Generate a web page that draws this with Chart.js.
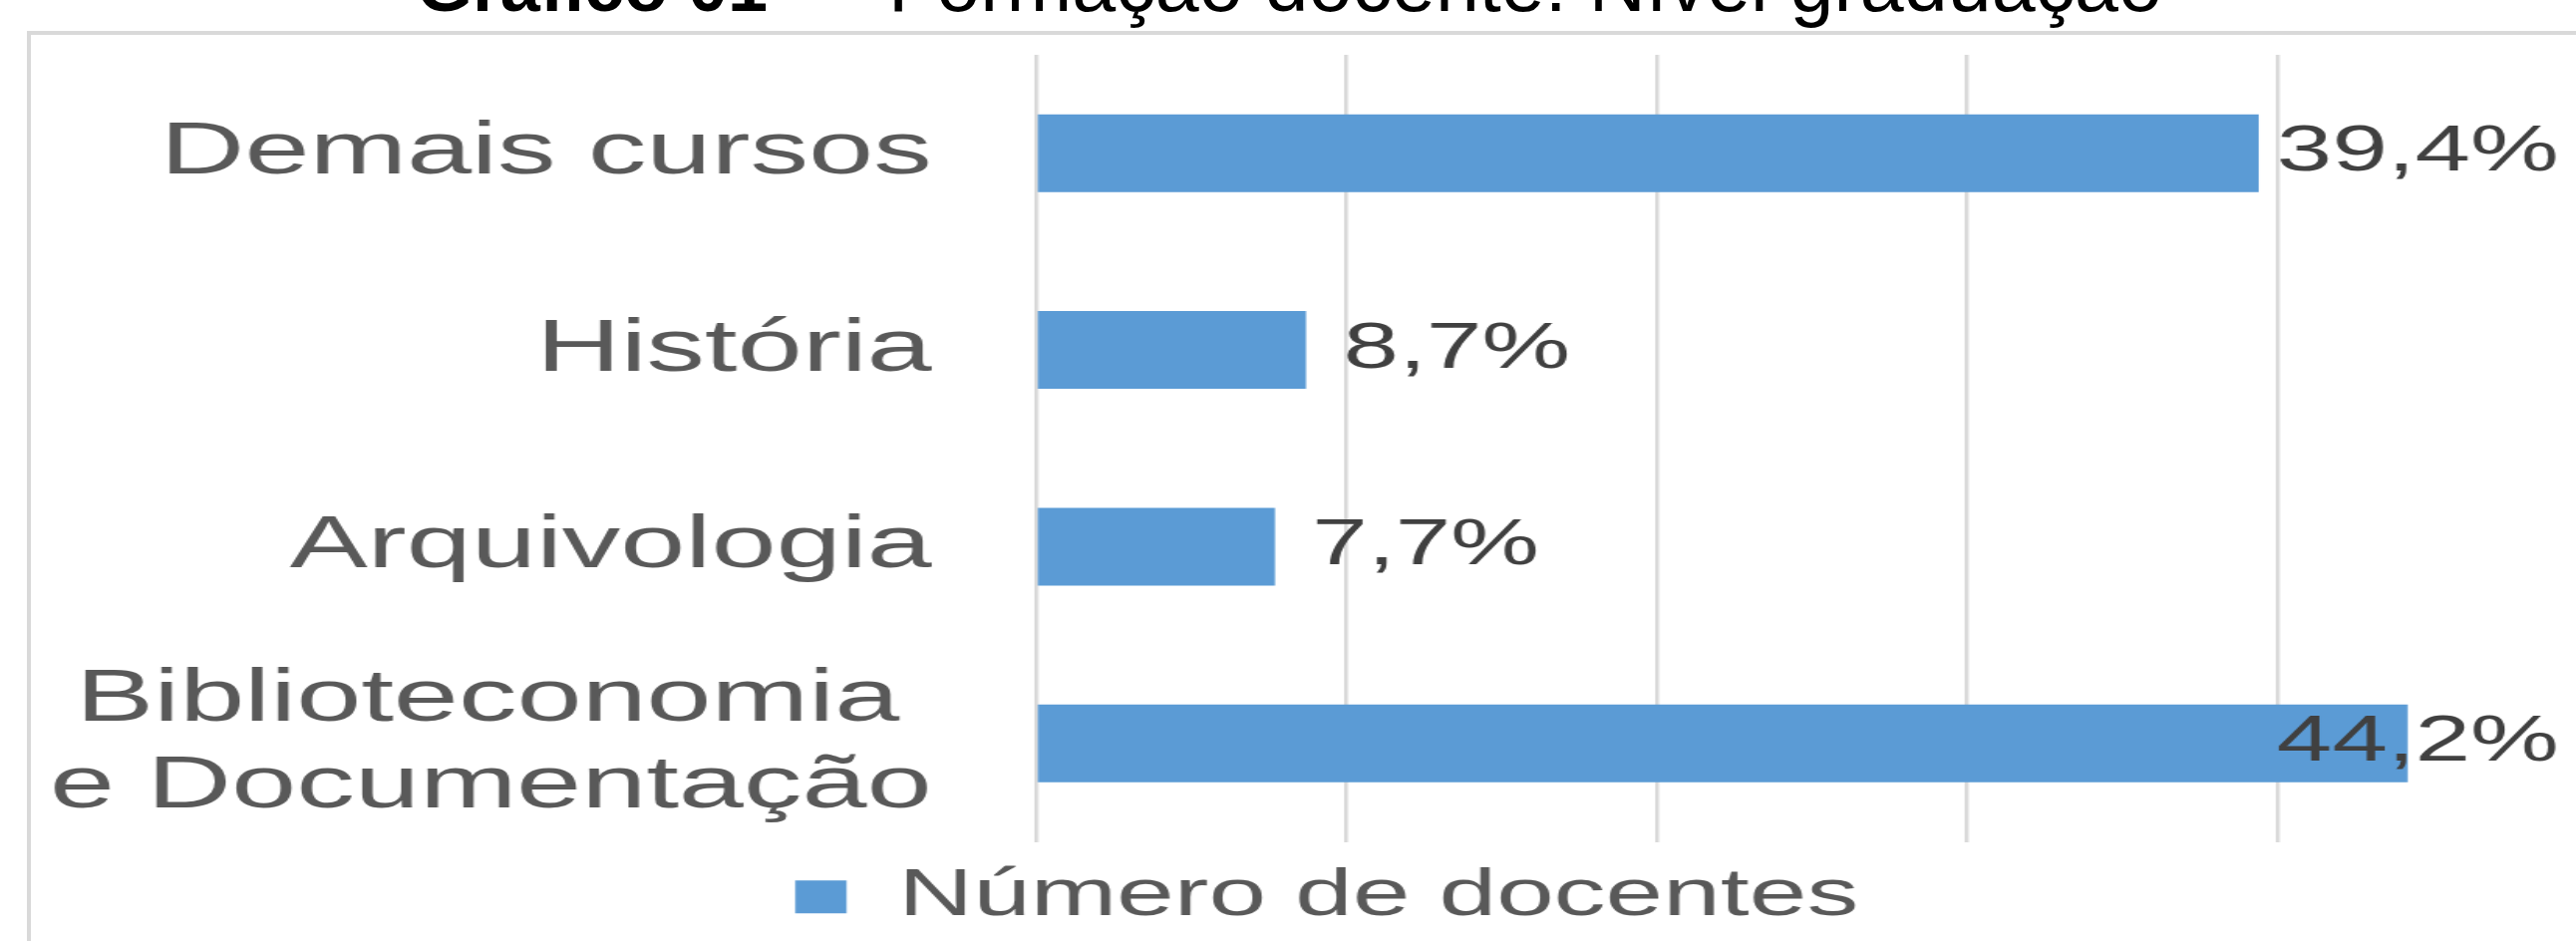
<!DOCTYPE html>
<html>
<head>
<meta charset="utf-8">
<script src="https://cdn.jsdelivr.net/npm/chart.js@4.4.1/dist/chart.umd.min.js"></script>
<style>
  html, body { margin: 0; padding: 0; background: #fff; overflow: hidden; width: 2584px; height: 944px; }
  #frame { position: absolute; left: 27px; top: 31px; width: 3000px; height: 2000px; border: 4px solid #d9d9d9; box-sizing: border-box; }
  #title { position: absolute; left: 418px; top: -55px; line-height: 78px; white-space: pre; color: #000; font-family: "Liberation Sans", Arial, sans-serif; }
  #title b { font-size: 72px; font-weight: bold; }
  #title span { font-size: 79px; margin-left: 55px; }
  #wrap { position: absolute; left: 0; top: 0; width: 1656px; height: 944px; transform: scaleX(1.5604); transform-origin: 0 0; }
</style>
</head>
<body>
<div id="frame"></div>
<div id="title"><b>Gráfico 01</b><span>– Formação docente: Nível graduação</span></div>
<div id="wrap"><canvas id="c"></canvas></div>
<script>
const categories = ['Demais cursos', 'História', 'Arquivologia', ['Biblioteconomia ', 'e Documentação']];
const docentesPct = [39.4, 8.7, 7.7, 44.2];
const seriesName = 'Número de docentes';
const axisTicks = [0, 10, 20, 30, 40];

const FONT = '"Liberation Sans", Arial, sans-serif';
const fmt = v => v.toFixed(1).replace('.', ',') + '%';

const valueLabels = {
  id: 'valueLabels',
  afterDatasetsDraw(chart) {
    const ctx = chart.ctx;
    const meta = chart.getDatasetMeta(0);
    ctx.save();
    ctx.font = '64px ' + FONT;
    ctx.fillStyle = '#404040';
    ctx.textAlign = 'left';
    ctx.textBaseline = 'middle';
    const maxRight = chart.width - 11;
    meta.data.forEach((bar, i) => {
      const t = fmt(docentesPct[i]);
      const w = ctx.measureText(t).width;
      let x = bar.x + 24;
      if (x + w > maxRight) x = maxRight - w;
      ctx.fillText(t, x, bar.y);
    });
    ctx.restore();
  }
};

const legendShift = {
  id: 'legendShift',
  afterLayout(chart) {
    const lg = chart.legend;
    if (lg) { lg.left += 121; lg.right += 121; }
  }
};

new Chart(document.getElementById('c'), {
  type: 'bar',
  data: {
    labels: categories,
    datasets: [{
      label: seriesName,
      data: docentesPct,
      backgroundColor: '#5b9bd5',
      borderWidth: 0,
      barPercentage: 0.395,
      categoryPercentage: 1,
      clip: false
    }]
  },
  options: {
    indexAxis: 'y',
    responsive: true,
    maintainAspectRatio: false,
    animation: false,
    layout: { padding: { left: 0, right: 192, top: 55, bottom: 1 } },
    scales: {
      x: {
        min: axisTicks[0],
        max: axisTicks[axisTicks.length - 1],
        afterBuildTicks: s => { s.ticks = axisTicks.map(v => ({ value: v })); },
        ticks: { display: false },
        grid: { color: '#d9d9d9', lineWidth: 2.5, drawTicks: false },
        border: { display: false },
        afterFit: s => { s.height = 12; s.paddingLeft = 0; s.paddingRight = 0; }
      },
      y: {
        grid: { display: false, drawTicks: false },
        border: { display: false },
        ticks: {
          color: '#595959',
          padding: 67,
          font: { family: FONT, size: 75, lineHeight: 1.15 }
        },
        afterFit: s => { s.width = 666; s.paddingTop = 0; s.paddingBottom = 0; }
      }
    },
    plugins: {
      legend: {
        position: 'bottom',
        labels: {
          color: '#595959',
          boxWidth: 33,
          boxHeight: 33,
          padding: 10,
          font: { family: FONT, size: 66.5 }
        }
      },
      tooltip: { enabled: false },
      title: { display: false }
    }
  },
  plugins: [valueLabels, legendShift]
});
</script>
</body>
</html>
